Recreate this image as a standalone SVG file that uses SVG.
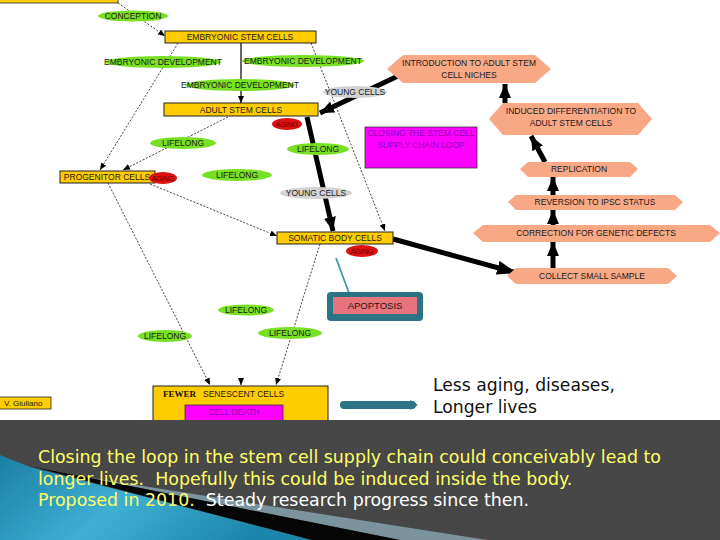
<svg xmlns="http://www.w3.org/2000/svg" width="720" height="540" viewBox="0 0 720 540">
<style>
.t{font-family:"Liberation Sans",Arial,sans-serif;font-size:8.5px;fill:#1a1a1a;text-anchor:middle}
.ag{font-size:7px;fill:#6a0000}
.box{fill:#FFCC00;stroke:#222;stroke-width:1}
.grn{fill:#77E022}
.red{fill:#DD1111}
.gry{fill:#D2D2D2}
.hex{fill:#F9A886}
.dot{fill:none;stroke:#111;stroke-width:0.8;stroke-dasharray:2,1.6}
.thk{fill:none;stroke:#000;stroke-width:5}
.big{font-family:"DejaVu Sans",Verdana,sans-serif;font-size:17.2px;fill:#111}
.cap{font-family:"DejaVu Sans",Verdana,sans-serif;font-size:17.4px;fill:#FFFF66;white-space:pre}
</style>
<defs>
<marker id="ah" markerUnits="userSpaceOnUse" markerWidth="14" markerHeight="12" refX="14" refY="6" orient="auto"><path d="M0,0 L14,6 L0,12 z" fill="#000"/></marker>
<marker id="ahb" markerUnits="userSpaceOnUse" markerWidth="20" markerHeight="14" refX="20" refY="7" orient="auto"><path d="M0,0 L20,7 L0,14 z" fill="#000"/></marker>
<marker id="ad" markerUnits="userSpaceOnUse" markerWidth="7" markerHeight="6" refX="7" refY="3" orient="auto"><path d="M0,0 L7,3 L0,6 z" fill="#000"/></marker>
<linearGradient id="blue" x1="0" y1="0" x2="1" y2="0.3">
<stop offset="0" stop-color="#1A7FA3"/><stop offset="0.5" stop-color="#3FB0D2"/><stop offset="1" stop-color="#1C86AA"/>
</linearGradient>
</defs>
<rect x="0" y="0" width="720" height="540" fill="#fff"/>
<rect x="-2" y="-3" width="120" height="6" fill="#FFCC00" stroke="#222" stroke-width="0.8"/>

<g id="connectors">
<path class="dot" d="M118,3 L165,36" marker-end="url(#ad)"/>
<path class="dot" d="M178,43 L100,170" marker-end="url(#ad)"/>
<path class="dot" d="M311,43 L385,231" marker-end="url(#ad)"/>
<path class="dot" d="M228,117 L123,170" marker-end="url(#ad)"/>
<path class="dot" d="M108,183 L210,385" marker-end="url(#ad)"/>
<path class="dot" d="M150,184 L277,236" marker-end="url(#ad)"/>
<path class="dot" d="M320,244 L276,385" marker-end="url(#ad)"/>
<path d="M241,379 L241,385" stroke="#000" stroke-width="1" marker-end="url(#ad)"/>
<path d="M241,43 L241,103" stroke="#000" stroke-width="1.2" fill="none" marker-end="url(#ad)"/>
<path class="thk" d="M307,117 L333,231" marker-end="url(#ah)"/>
<path class="thk" d="M398,76 L320,113" marker-end="url(#ah)"/>
<path class="thk" d="M393,239 L517,273" stroke-width="6" marker-end="url(#ahb)"/>
<path class="thk" stroke-width="4" d="M505,103 L505,84" marker-end="url(#ah)"/>
<path class="thk" stroke-width="4" d="M545,162 L531,136" marker-end="url(#ah)"/>
<path class="thk" stroke-width="4" d="M553,195 L553,177" marker-end="url(#ah)"/>
<path class="thk" stroke-width="4" d="M553,225 L553,210" marker-end="url(#ah)"/>
<path class="thk" stroke-width="4" d="M553,268 L553,242" marker-end="url(#ah)"/>
<path d="M336,258 L349,293" stroke="#3A9AB0" stroke-width="1.8" fill="none"/>
<path d="M344,405 L412,405" stroke="#2C7386" stroke-width="8" stroke-linecap="round" fill="none"/>
<path d="M410,400 L418,405 L410,410 z" fill="#2C7386"/>
</g>

<g id="conception"><ellipse class="grn" cx="133" cy="16" rx="35" ry="5.5"/><text class="t" x="133" y="19">CONCEPTION</text></g>
<g id="esc"><rect class="box" x="165" y="31" width="151" height="12"/><text class="t" x="240" y="40">EMBRYONIC STEM CELLS</text></g>
<g id="ed1"><ellipse class="grn" cx="163" cy="62" rx="58" ry="6"/><text class="t" x="163" y="65">EMBRYONIC DEVELOPMENT</text></g>
<g id="ed2"><ellipse class="grn" cx="303" cy="61" rx="61" ry="6"/><text class="t" x="303" y="64">EMBRYONIC DEVELOPMENT</text></g>
<g id="ed3"><ellipse class="grn" cx="240" cy="85" rx="55" ry="6"/><text class="t" x="240" y="88">EMBRYONIC DEVELOPMENT</text></g>
<g id="yc1"><ellipse class="gry" cx="355" cy="92" rx="32" ry="6"/><text class="t" x="355" y="95">YOUNG CELLS</text></g>
<g id="asc"><rect class="box" x="164" y="103" width="154" height="13"/><text class="t" x="241" y="113">ADULT STEM CELLS</text></g>
<g id="aging1"><ellipse class="red" cx="287" cy="124" rx="15" ry="6"/><text class="t ag" x="287" y="127">AGING</text></g>
<g id="lf1"><ellipse class="grn" cx="183" cy="143" rx="33" ry="6"/><text class="t" x="183" y="146">LIFELONG</text></g>
<g id="lf2"><ellipse class="grn" cx="318" cy="149" rx="31" ry="6"/><text class="t" x="318" y="152">LIFELONG</text></g>
<g id="lf3"><ellipse class="grn" cx="237" cy="175" rx="35" ry="6"/><text class="t" x="237" y="178">LIFELONG</text></g>
<g id="yc2"><ellipse class="gry" cx="316" cy="193" rx="36" ry="6"/><text class="t" x="316" y="196">YOUNG CELLS</text></g>
<g id="closing"><rect x="365" y="127" width="112" height="41" fill="#FF00FF" stroke="#333" stroke-width="0.8"/><text class="t" x="421" y="136" style="fill:#8A00B0">CLOSING THE STEM CELL</text><text class="t" x="421" y="148" style="fill:#8A00B0">SUPPLY CHAIN LOOP</text></g>
<g id="prog"><rect class="box" x="60" y="171" width="95" height="12"/><text class="t" x="107" y="180">PROGENITOR CELLS</text></g>
<g id="aging2"><ellipse class="red" cx="163" cy="178" rx="14" ry="6"/><text class="t ag" x="163" y="181">AGING</text></g>
<g id="somatic"><rect class="box" x="277" y="232" width="116" height="12"/><text class="t" x="335" y="241">SOMATIC BODY CELLS</text></g>
<g id="aging3"><ellipse class="red" cx="362" cy="251" rx="16" ry="6"/><text class="t ag" x="362" y="254">AGING</text></g>

<g id="intro"><path class="hex" d="M387,69 L403,55 L535,55 L551,69 L535,83 L403,83 z"/><text class="t" x="469" y="66">INTRODUCTION TO ADULT STEM</text><text class="t" x="469" y="78">CELL NICHES</text></g>
<g id="induced"><path class="hex" d="M489,119 L503,103 L638,103 L652,119 L638,135 L503,135 z"/><text class="t" x="571" y="114">INDUCED DIFFERENTIATION TO</text><text class="t" x="571" y="126">ADULT STEM CELLS</text></g>
<g id="replication"><path class="hex" d="M520,169 L528,162 L630,162 L638,169 L630,177 L528,177 z"/><text class="t" x="579" y="172">REPLICATION</text></g>
<g id="reversion"><path class="hex" d="M508,202 L516,195 L675,195 L683,202 L675,210 L516,210 z"/><text class="t" x="595" y="205">REVERSION TO IPSC STATUS</text></g>
<g id="correction"><path class="hex" d="M473,233 L483,225 L710,225 L720,233 L710,242 L483,242 z"/><text class="t" x="596" y="236">CORRECTION FOR GENETIC DEFECTS</text></g>
<g id="collect"><path class="hex" d="M507,276 L516,268 L668,268 L677,276 L668,284 L516,284 z"/><text class="t" x="592" y="279">COLLECT SMALL SAMPLE</text></g>

<g id="apoptosis"><rect x="327" y="292" width="96" height="29" rx="4" fill="#2C7386"/><rect x="333" y="297" width="84" height="17" fill="#E8737D"/><text class="t" x="375" y="309" style="font-size:9.5px">APOPTOSIS</text></g>
<g id="lf4"><ellipse class="grn" cx="246" cy="310" rx="28" ry="5.5"/><text class="t" x="246" y="313">LIFELONG</text></g>
<g id="lf5"><ellipse class="grn" cx="165" cy="336" rx="27" ry="6"/><text class="t" x="165" y="339">LIFELONG</text></g>
<g id="lf6"><ellipse class="grn" cx="290" cy="333" rx="32" ry="6"/><text class="t" x="290" y="336">LIFELONG</text></g>

<g id="fewer"><rect class="box" x="153" y="386" width="175" height="36"/><text x="163" y="397" style="font-family:'Liberation Serif',serif;font-size:9px;font-weight:bold;fill:#111">FEWER</text><text class="t" x="203" y="397" style="text-anchor:start">SENESCENT CELLS</text></g>
<g id="celldeath"><rect x="185" y="405" width="98" height="17" fill="#FF00FF" stroke="#333" stroke-width="0.8"/><text class="t" x="234" y="415" style="fill:#8A00B0">CELL DEATH</text></g>
<g id="giuliano"><rect x="-1" y="397" width="52" height="12" fill="#FFCC00" stroke="#222" stroke-width="0.8"/><text class="t" x="4" y="406" style="text-anchor:start;font-size:8px">V. Giuliano</text></g>

<text class="big" x="433" y="391">Less aging, diseases,</text>
<text class="big" x="433" y="413">Longer lives</text>

<g id="band">
<rect x="0" y="420" width="720" height="120" fill="#474747"/>
<path d="M0,455 L30,467 L312,540 L0,540 z" fill="url(#blue)"/>
<path d="M60,473 L487,540 L400,540 L30,466 z" fill="#7B939C"/>
<path d="M30,466 L400,540 L312,540 z" fill="#050505"/>
<text class="cap" x="38" y="463">Closing the loop in the stem cell supply chain could conceivably lead to</text>
<text class="cap" x="38" y="485">longer lives.  Hopefully this could be induced inside the body.</text>
<text class="cap" x="38" y="506">Proposed in 2010.<tspan fill="#fff">  Steady research progress since then.</tspan></text>
</g>
</svg>
